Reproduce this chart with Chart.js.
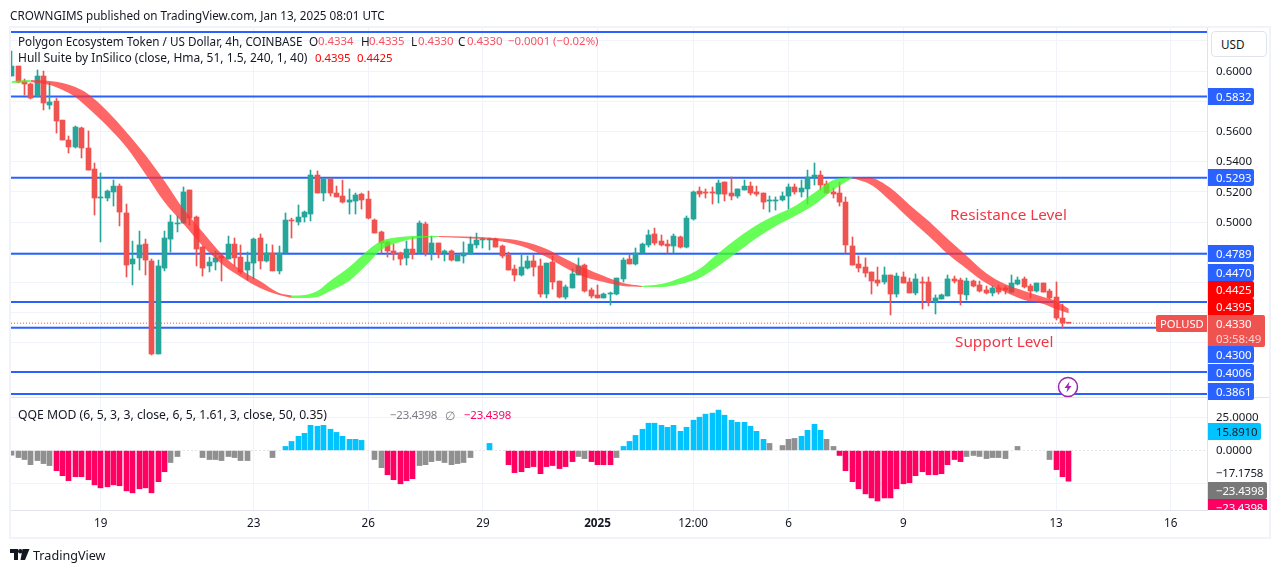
<!DOCTYPE html>
<html>
<head>
<meta charset="utf-8">
<title>POLUSD 4h</title>
<script src="https://cdn.jsdelivr.net/npm/chart.js@4/dist/chart.umd.js"></script>
<style>
  html, body { margin: 0; padding: 0; background: #fff; }
  body { width: 1281px; height: 573px; overflow: hidden; position: relative; font-family: "Noto Sans", sans-serif; color: #131722; }
  canvas { position: absolute; left: 0; top: 0; }
  .txt { position: absolute; white-space: nowrap; font-size: 11.7px; line-height: 16px; }
  .num { font-size: 11.4px; }
  .red { color: #f7525f; }
  .hot { color: #ff0000; }
  .frame { position: absolute; left: 9px; top: 26px; width: 1258px; height: 509px; border: 2px solid #f0f3fa; }
  .sep { position: absolute; left: 11px; top: 397px; width: 1258px; height: 1px; background: #e0e3eb; }
  .tag { position: absolute; left: 1208px; width: 38px; height: 17px; line-height: 17px; padding-left: 8px; font-size: 11.4px; color: #fff; border-radius: 0 2px 2px 0; overflow: hidden; }
</style>
</head>
<body>
<canvas id="chart" width="1281" height="573"></canvas>
<div class="frame"></div>
<div class="sep"></div>
<div id="overlay"></div>
<script>
// candles, 4h bars
const opens = [
  .5967,.6033,.5934,.5914,.5834,.5967,.5775,.5801,.5675,.5543,
  .5497,.5623,.5490,.5351,.5159,.5159,.5199,.5238,.5060,.4722,
  .4762,.4854,.4742,.4126,.4695,.4887,.4987,.4993,.5212,.5033,
  .4834,.4709,.4735,.4775,.4755,.4854,.4768,.4682,.4728,.4894,
  .4742,.4795,.4676,.4795,.5013,.5000,.5033,.5053,.5311,.5192,
  .5285,.5192,.5172,.5132,.5139,.5185,.5152,.5013,.4934,.4868,
  .4808,.4795,.4762,.4821,.4795,.4987,.4795,.4861,.4795,.4808,
  .4742,.4775,.4788,.4848,.4881,.4881,.4887,.4841,.4781,.4689,
  .4649,.4695,.4742,.4709,.4523,.4735,.4609,.4503,.4563,.4649,
  .4715,.4550,.4517,.4497,.4523,.4523,.4623,.4755,.4722,.4795,
  .4848,.4921,.4874,.4854,.4841,.4901,.4834,.5020,.5205,.5199,
  .5199,.5185,.5265,.5192,.5172,.5212,.5238,.5199,.5192,.5139,
  .5139,.5146,.5172,.5232,.5199,.5219,.5298,.5311,.5252,.5199,
  .5192,.5132,.4841,.4722,.4702,.4669,.4616,.4603,.4649,.4523,
  .4636,.4603,.4530,.4603,.4603,.4470,.4490,.4510,.4623,.4616,
  .4517,.4609,.4583,.4550,.4530,.4563,.4563,.4536,.4589,.4623,
  .4576,.4543,.4596,.4543,.4503,.4364,.4334
];
const highs = [
  .6132,.6033,.5947,.5921,.6007,.6000,.5921,.5821,.5675,.5570,
  .5636,.5629,.5603,.5391,.5325,.5212,.5278,.5252,.5119,.4874,
  .4940,.4887,.4755,.4748,.4940,.5046,.5040,.5232,.5212,.5040,
  .4841,.4768,.4808,.4788,.4907,.4894,.4848,.4801,.4894,.4921,
  .4854,.4848,.4841,.5060,.5026,.5113,.5073,.5344,.5338,.5291,
  .5285,.5238,.5278,.5219,.5192,.5192,.5205,.5020,.4940,.4874,
  .4854,.4801,.4874,.4901,.5007,.5000,.4907,.4861,.4815,.4815,
  .4781,.4868,.4901,.4927,.4894,.4894,.4894,.4848,.4801,.4715,
  .4781,.4775,.4781,.4755,.4728,.4775,.4609,.4583,.4689,.4762,
  .4722,.4563,.4583,.4530,.4536,.4629,.4762,.4781,.4828,.4861,
  .4947,.4960,.4914,.4881,.4921,.4907,.5040,.5205,.5232,.5219,
  .5232,.5278,.5265,.5298,.5219,.5278,.5265,.5238,.5192,.5172,
  .5166,.5199,.5252,.5252,.5278,.5344,.5391,.5338,.5272,.5225,
  .5265,.5166,.4901,.4775,.4762,.4669,.4702,.4702,.4649,.4662,
  .4669,.4629,.4656,.4636,.4636,.4517,.4523,.4649,.4642,.4629,
  .4629,.4616,.4609,.4576,.4576,.4583,.4576,.4649,.4636,.4636,
  .4589,.4596,.4596,.4556,.4603,.4457,.4335
];
const lows = [
  .5967,.5921,.5841,.5815,.5828,.5742,.5748,.5589,.5543,.5457,
  .5490,.5424,.5344,.5046,.4868,.5139,.5106,.4974,.4636,.4583,
  .4682,.4649,.4119,.4126,.4676,.4801,.4934,.4993,.4980,.4709,
  .4642,.4669,.4682,.4609,.4755,.4709,.4656,.4616,.4623,.4689,
  .4735,.4676,.4656,.4795,.4894,.4980,.5000,.5007,.5192,.5139,
  .5172,.5166,.5126,.5053,.5053,.5086,.5020,.4927,.4795,.4768,
  .4748,.4715,.4715,.4755,.4795,.4775,.4748,.4762,.4742,.4742,
  .4742,.4728,.4788,.4828,.4828,.4815,.4834,.4762,.4682,.4609,
  .4642,.4689,.4642,.4503,.4497,.4556,.4497,.4490,.4563,.4649,
  .4536,.4497,.4497,.4497,.4450,.4517,.4603,.4722,.4715,.4795,
  .4834,.4848,.4841,.4795,.4795,.4828,.4828,.5013,.5166,.5159,
  .5119,.5126,.5139,.5146,.5159,.5212,.5179,.5172,.5086,.5066,
  .5079,.5139,.5086,.5185,.5166,.5119,.5245,.5212,.5192,.5159,
  .5106,.4795,.4715,.4669,.4636,.4523,.4576,.4589,.4384,.4503,
  .4596,.4530,.4517,.4424,.4444,.4391,.4490,.4510,.4596,.4450,
  .4483,.4570,.4536,.4523,.4510,.4523,.4523,.4530,.4583,.4563,
  .4497,.4536,.4536,.4490,.4351,.4298,.4330
];
const closes = [
  .6033,.5927,.5914,.5821,.5967,.5788,.5795,.5669,.5543,.5497,
  .5629,.5490,.5344,.5159,.5166,.5205,.5238,.5066,.4715,.4755,
  .4848,.4748,.4126,.4709,.4894,.5000,.4993,.5199,.5026,.4821,
  .4695,.4735,.4762,.4762,.4854,.4762,.4669,.4735,.4887,.4742,
  .4795,.4676,.4795,.5013,.5007,.5033,.5066,.5311,.5192,.5285,
  .5192,.5166,.5132,.5146,.5179,.5146,.5026,.4927,.4861,.4808,
  .4788,.4755,.4821,.4788,.4993,.4795,.4861,.4788,.4808,.4748,
  .4781,.4795,.4854,.4881,.4887,.4887,.4834,.4775,.4682,.4649,
  .4702,.4742,.4702,.4523,.4728,.4603,.4503,.4570,.4656,.4709,
  .4543,.4510,.4497,.4523,.4530,.4629,.4748,.4722,.4795,.4854,
  .4914,.4861,.4848,.4841,.4907,.4834,.5026,.5199,.5185,.5192,
  .5192,.5258,.5185,.5172,.5219,.5238,.5192,.5185,.5132,.5146,
  .5146,.5172,.5232,.5199,.5225,.5298,.5311,.5245,.5192,.5185,
  .5132,.4848,.4715,.4695,.4662,.4609,.4596,.4649,.4523,.4642,
  .4596,.4530,.4623,.4596,.4470,.4497,.4517,.4623,.4609,.4523,
  .4609,.4576,.4543,.4530,.4563,.4536,.4550,.4596,.4616,.4570,
  .4543,.4596,.4536,.4497,.4364,.4331,.4330
];

// Hull band, samples along the ribbon (bar index, two edges, g/r trend)
const hullBars = [
  0,3,
  3,6,8,10,12,15,18,21,24,27,30,33,36,39,42,44,
  44,46,48,50,53,56,58,61,64,67,
  67,71,76,80,84,87,90,93,96,99,
  99,102,105,108,111,114,117,120,123,126,129,132,
  132,135,138,141,144,147,150,153,156,159,162,164,166
];
const hullUpper = [
  .5934,.5940,
  .5940,.5934,.5921,.5894,.5848,.5735,.5596,.5444,.5272,.5086,.4934,.4788,.4682,.4609,.4530,.4513,
  .4513,.4517,.4543,.4609,.4702,.4815,.4874,.4901,.4907,.4907,
  .4907,.4904,.4894,.4874,.4821,.4755,.4695,.4642,.4596,.4576,
  .4576,.4589,.4629,.4689,.4795,.4894,.4980,.5046,.5106,.5192,.5278,.5298,
  .5298,.5291,.5225,.5113,.5007,.4887,.4775,.4662,.4589,.4543,.4503,.4477,.4425
];
const hullLower = [
  .5921,.5927,
  .5927,.5907,.5874,.5828,.5755,.5636,.5497,.5318,.5132,.4987,.4841,.4722,.4636,.4563,.4517,.4497,
  .4497,.4497,.4503,.4543,.4609,.4728,.4815,.4868,.4894,.4901,
  .4901,.4894,.4878,.4841,.4768,.4695,.4636,.4603,.4576,.4570,
  .4570,.4570,.4589,.4629,.4709,.4801,.4894,.4974,.5040,.5113,.5212,.5291,
  .5291,.5245,.5139,.5020,.4907,.4788,.4689,.4596,.4536,.4483,.4457,.4424,.4395
];
const hullTrend =
  'gg' + 'rrrrrrrrrrrrrrrr' + 'gggggggggg' + 'rrrrrrrrrr' + 'gggggggggggg' + 'rrrrrrrrrrrrr';

// QQE MOD histogram, one value per bar, null where nothing is drawn
const qqeValues = [
  -3.6,-5.4,-6.9,-10.8,-7.7,-10,-11.5,-15.4,-19.2,-23,
  -20,-20,-22.3,-26.2,-28.5,-27.7,-26.2,-26.9,-30.8,-32.3,
  -29.2,-28.5,-32.3,-23.8,-16.2,-9.2,-4.6,null,null,null,
  -5.4,-6.9,-6.9,-7.7,-4.6,-5.4,-7.7,-7.7,null,null,
  null,-5.4,null,3.1,6.9,10.8,13.1,19.2,18.5,19.2,
  16.2,13.8,10.8,8.5,8.5,7.7,null,-6.9,-13.1,-18.5,
  -22.3,-25.4,-23,-21.5,-11.5,-10.8,-8.5,-7.7,-9.2,-10.8,
  -10,-9.2,-5.4,null,null,5.4,null,null,-10.8,-16.9,
  -16.2,-13.1,-12.3,-17.7,-12.3,-11.5,-13.8,-12.3,-8.5,-4.6,
  -6.2,-8.5,-10.8,-10.8,-10.8,-5.4,3.1,6.9,11.5,16.2,
  20.8,20.8,19.2,17.7,19.2,14.6,17.7,23.1,25.4,27.7,
  28.5,30.8,26.9,23.1,21.5,21.5,18.5,14.6,8.5,5.4,
  null,3.8,8.5,9.2,10.8,15.4,20,15.4,8.5,3.1,
  -3.8,-15.4,-23.8,-29.2,-33.1,-36.2,-38.5,-36.2,-36.2,-29.2,
  -25.4,-24.6,-19.2,-16.2,-18.5,-18.5,-17.7,-10.8,-6.9,-8.5,
  -4.6,-3.8,-4.6,-6.2,-5.4,-5.4,-6.2,null,3.1,null,
  null,null,null,-6.9,-14.6,-20,-23.4
];
// g grey, p pink, c cyan, . no bar
const qqeKinds =
  'gggggggpppppppppppppppppp' + 'gg...gggggggg...g.' + 'ccccccccccccc.gg' + 'pppppggggggggg..c..' +
  'ppppppppppp' + 'ggppppg' + 'ccccccccccccccccccccccc' + 'g.gggccccgg' +
  'pppppppppppppppppppp' + 'ggggggg.g....gppp';

// levels drawn by the author
const levels = [0.6258, 0.5832, 0.5293, 0.4789, 0.4470, 0.4300, 0.4006, 0.3861];
const lastPrice = 0.4330;

// axes
const timeTicks = [14, 38, 56, 74, 92, 107, 122, 140, 164, 182];
const timeLabels = ['19', '23', '26', '29', '2025', '12:00', '6', '9', '13', '16'];
const priceGrid = [0.62, 0.60, 0.58, 0.56, 0.54, 0.52, 0.50, 0.48, 0.46, 0.44, 0.42, 0.40];
const priceLabels = [0.60, 0.56, 0.54, 0.52, 0.50];
const qqeGrid = [25, 0, -25];
const qqeLabels = [25, 0];

const xMin = -0.1, xMax = 187.7;
const BLUE = '#2962ff', UP = '#26a69a', DOWN = '#ef5350';
const QQE_COLORS = { g: '#909090', p: '#ff0062', c: '#00c3ff' };
const HULL_COLORS = { g: 'rgba(60,255,40,0.78)', r: 'rgba(255,50,50,0.74)' };
const GRID = '#f0f3fa';
const FONT = '"Noto Sans", sans-serif';

const datasets = [];

levels.forEach(v => {
  datasets.push({
    type: 'line', yAxisID: 'y', order: 6,
    data: [{ x: xMin, y: v }, { x: xMax, y: v }],
    borderColor: BLUE, borderWidth: 2, pointRadius: 0
  });
});

const candleColor = closes.map((c, i) => c >= opens[i] ? UP : DOWN);

datasets.push({
  type: 'bar', yAxisID: 'y', order: 5, grouped: false, barThickness: 1,
  data: opens.map((_, i) => ({ x: i, y: [lows[i], highs[i]] })),
  backgroundColor: candleColor
});
datasets.push({
  type: 'bar', yAxisID: 'y', order: 4, grouped: false, barThickness: 5, minBarLength: 1,
  data: opens.map((o, i) => ({ x: i, y: [o, closes[i]] })),
  backgroundColor: candleColor
});

// one pair of edge lines per trend run, the second fills back to the first
let start = 0;
for (let k = 1; k <= hullBars.length; k++) {
  if (k < hullBars.length && hullTrend[k] === hullTrend[start]) continue;
  const color = HULL_COLORS[hullTrend[start]];
  const run = (edge) => edge.slice(start, k).map((v, j) => ({ x: hullBars[start + j], y: v }));
  datasets.push({ type: 'line', yAxisID: 'y', order: 3, data: run(hullUpper), borderWidth: 0, pointRadius: 0, cubicInterpolationMode: 'monotone' });
  datasets.push({ type: 'line', yAxisID: 'y', order: 3, data: run(hullLower), borderWidth: 0, pointRadius: 0, cubicInterpolationMode: 'monotone', fill: '-1', backgroundColor: color });
  start = k;
}

datasets.push({
  type: 'line', yAxisID: 'y', order: 2,
  data: [{ x: xMin, y: lastPrice }, { x: xMax, y: lastPrice }],
  borderColor: DOWN, borderWidth: 1, borderDash: [1, 2], pointRadius: 0
});

const qqeBars = qqeValues.map((v, i) => ({ x: i, y: v, kind: qqeKinds[i] })).filter(b => b.y !== null);
datasets.push({
  type: 'bar', yAxisID: 'qqe', order: 4, grouped: false, barThickness: 5,
  data: qqeBars.map(b => ({ x: b.x, y: b.y })),
  backgroundColor: qqeBars.map(b => QQE_COLORS[b.kind])
});
datasets.push({
  type: 'line', yAxisID: 'qqe', order: 1,
  data: [{ x: xMin, y: 0 }, { x: xMax, y: 0 }],
  borderColor: '#e3e5ea', borderWidth: 1, borderDash: [2, 2], pointRadius: 0
});

// snap bars to whole pixels so wicks stay 1px
const snapBars = {
  id: 'snapBars',
  afterDatasetsUpdate(chart) {
    chart.getSortedVisibleDatasetMetas().forEach(meta => {
      if (meta.type !== 'bar') return;
      meta.data.forEach(b => { b.x = Math.round(b.x - 0.5) + 0.5; });
    });
  }
};

const axisTicks = { color: '#131722', padding: 9, labelOffset: 0.5, font: { family: FONT, size: 11.5 } };

new Chart(document.getElementById('chart').getContext('2d'), {
  data: { datasets },
  plugins: [snapBars],
  options: {
    responsive: false,
    animation: false,
    events: [],
    layout: { padding: { left: 11, top: 28, bottom: 36, right: 0 } },
    plugins: { legend: { display: false }, tooltip: { enabled: false } },
    scales: {
      x: {
        type: 'linear', min: xMin, max: xMax, offset: false,
        grid: { color: GRID, offset: false, drawTicks: false },
        border: { color: '#e0e3eb' },
        afterBuildTicks: s => { s.ticks = timeTicks.map(v => ({ value: v })); },
        afterFit: s => { s.height = 27; },
        ticks: {
          autoSkip: false, maxRotation: 0, padding: 7, color: '#131722',
          font: c => ({ family: FONT, size: 11.7, weight: c.tick && timeLabels[timeTicks.indexOf(c.tick.value)] === '2025' ? 'bold' : 'normal' }),
          callback: v => timeLabels[timeTicks.indexOf(v)]
        }
      },
      y: {
        type: 'linear', position: 'right', stack: 'panes', stackWeight: 369,
        min: 0.3841, max: 0.6285,
        grid: { color: GRID, drawTicks: false },
        border: { color: '#e0e3eb' },
        afterBuildTicks: s => { s.ticks = priceGrid.map(v => ({ value: v })); },
        afterFit: s => { s.width = 74; },
        ticks: { ...axisTicks, autoSkip: false, callback: v => priceLabels.includes(v) ? v.toFixed(4) : '' }
      },
      qqe: {
        type: 'linear', position: 'right', stack: 'panes', stackWeight: 113,
        min: -45.4, max: 40.8,
        grid: { color: c => (c.tick && c.tick.value === 0) ? 'transparent' : GRID, drawTicks: false },
        border: { color: '#e0e3eb' },
        afterBuildTicks: s => { s.ticks = qqeGrid.map(v => ({ value: v })); },
        afterFit: s => { s.width = 74; },
        ticks: { ...axisTicks, autoSkip: false, callback: v => qqeLabels.includes(v) ? v.toFixed(4) : '' }
      }
    }
  }
});

// texts and price tags on top of the canvas
const tags = [
  { t: '0.5832', y: 96, bg: BLUE },
  { t: '0.5293', y: 177, bg: BLUE },
  { t: '0.4789', y: 253, bg: BLUE },
  { t: '0.4470', y: 272.5, bg: BLUE },
  { t: '0.4425', y: 289.5, bg: '#ff0000' },
  { t: '0.4395', y: 306.5, bg: '#ff0000' },
  { t: '0.4300', y: 354.5, bg: BLUE },
  { t: '0.4006', y: 372.5, bg: BLUE },
  { t: '0.3861', y: 391, bg: BLUE },
  { t: '15.8910', y: 431.5, bg: '#00c3ff', fg: '#131722', w: 45 },
  { t: '−23.4398', y: 490.5, bg: '#787878', w: 51 }
];
const legendRow = [
  ['O', 309, ''], ['0.4334', 318, 'red num'], ['H', 361, ''], ['0.4335', 369, 'red num'],
  ['L', 411, ''], ['0.4330', 418, 'red num'], ['C', 458, ''], ['0.4330', 467, 'red num'],
  ['−0.0001 (−0.02%)', 508, 'red num']
];
const overlay = document.getElementById('overlay');
overlay.innerHTML = `
  <div class="txt" style="left:10px;top:7px">CROWNGIMS published on TradingView.com, Jan 13, 2025 08:01 UTC</div>
  <div class="txt" style="left:18px;top:33px">Polygon Ecosystem Token / US Dollar, 4h, COINBASE</div>
  ${legendRow.map(([t, x, cls]) => `<div class="txt ${cls}" style="left:${x}px;top:33px">${t}</div>`).join('')}
  <div class="txt" style="left:18px;top:50px;font-size:12px">Hull Suite by InSilico (close, Hma, 51, 1.5, 240, 1, 40)</div>
  <div class="txt num hot" style="left:315px;top:50px">0.4395</div>
  <div class="txt num hot" style="left:357px;top:50px">0.4425</div>
  <div class="txt" style="left:18px;top:407px;font-size:12.2px">QQE MOD (6, 5, 3, 3, close, 6, 5, 1.61, 3, close, 50, 0.35)</div>
  <div class="txt num" style="left:390px;top:407px;color:#787b86;letter-spacing:-.2px">−23.4398</div>
  <div class="txt" style="left:445px;top:407px;color:#787b86">∅</div>
  <div class="txt num" style="left:464px;top:407px;color:#ff0062;letter-spacing:-.2px">−23.4398</div>
  <div class="txt" style="left:950px;top:205px;font-size:15.3px;line-height:18px;color:#f23645">Resistance Level</div>
  <div class="txt" style="left:955px;top:332px;font-size:15.3px;line-height:18px;color:#f23645">Support Level</div>
  <div class="txt" style="left:1211px;top:31px;width:54px;height:24px;line-height:24px;border:1px solid #e0e3eb;border-radius:4px;background:#fff;text-indent:9px">USD</div>
  <div class="txt num" style="left:1216px;top:465px;letter-spacing:-.2px">−17.1758</div>
  <div class="tag" style="left:1156px;top:315px;width:47px;padding-left:4px;font-size:11.2px;background:#ef5350;border-radius:2px 0 0 2px">POLUSD</div>
  <div class="tag" style="top:315px;width:49px;height:32px;background:#ef5350">0.4330<div style="margin-top:-2px;color:#fbd5d4">03:58:49</div></div>
  <div class="tag" style="top:499px;height:11px;width:51px;background:#ff0062;border-radius:0;line-height:17px;letter-spacing:-.2px">−23.4398</div>
  <svg style="position:absolute;left:1057px;top:376px" width="22" height="22" viewBox="0 0 22 22">
    <circle cx="11" cy="11" r="9.5" fill="#fff" stroke="#9c27b0" stroke-width="1.5"/>
    <path d="M12.5 5.5 L7.5 12 H10.5 L9.5 16.5 L14.5 10 H11.5 Z" fill="#9c27b0"/>
  </svg>
  <svg style="position:absolute;left:10px;top:549px" width="20" height="12" viewBox="0 0 20 12">
    <path d="M0 0H8V11H4V4H0Z M12.5 0H19.5L15 11H10.5Z" fill="#131722"/><circle cx="10.2" cy="2.3" r="2.2" fill="#131722"/>
  </svg>
  <div class="txt" style="left:33px;top:547px;font-size:12.6px;line-height:18px">TradingView</div>
`;
tags.forEach(tag => {
  const d = document.createElement('div');
  d.className = 'tag';
  d.textContent = tag.t;
  d.style.top = (tag.y - 8.5) + 'px';
  d.style.background = tag.bg;
  if (tag.fg) d.style.color = tag.fg;
  if (tag.w) { d.style.width = tag.w + 'px'; d.style.letterSpacing = '-.1px'; }
  overlay.appendChild(d);
});
</script>
</body>
</html>
